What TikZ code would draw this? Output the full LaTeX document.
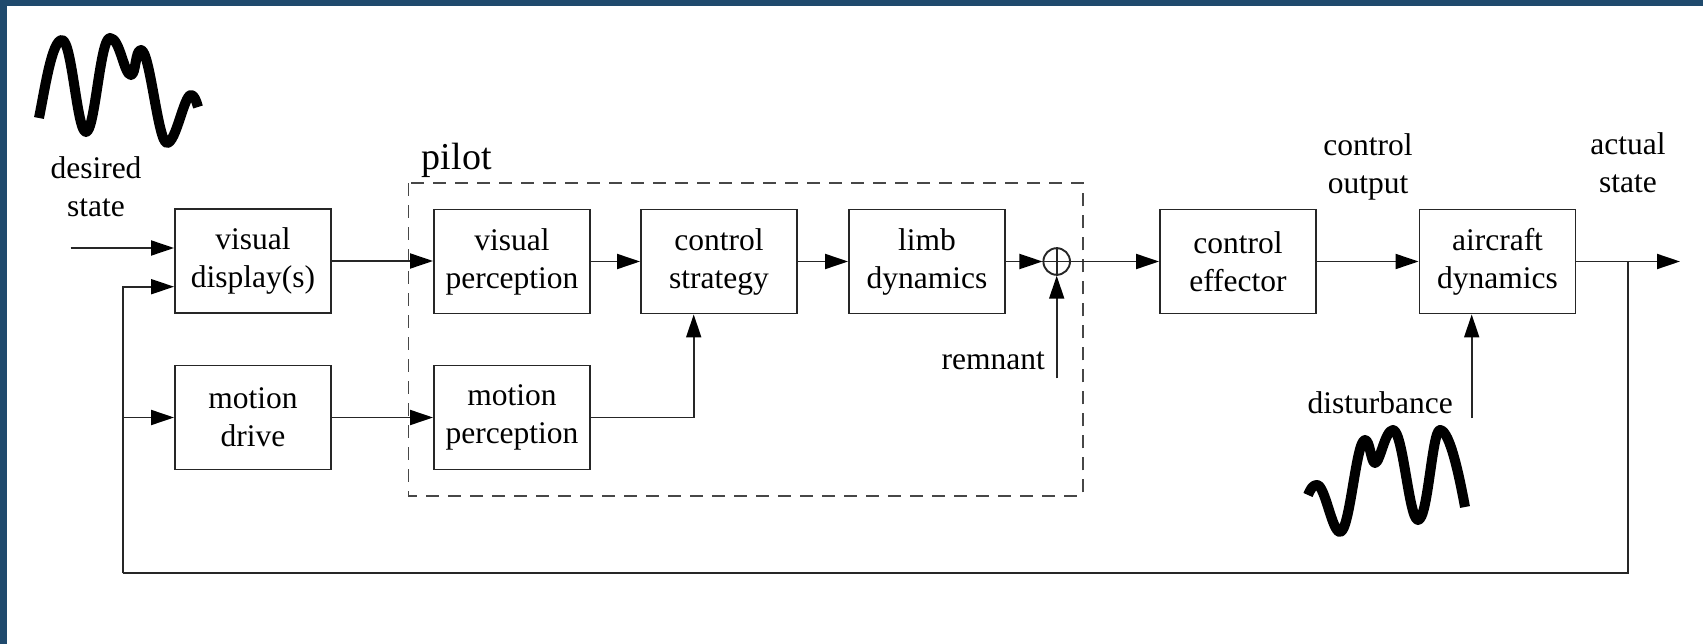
\documentclass[tikz,border=0pt]{standalone}
\usepackage{fontspec}
\setmainfont{Liberation Serif}
\usetikzlibrary{arrows.meta,calc}
\definecolor{frameblue}{HTML}{1F4A6D}
\definecolor{ink}{HTML}{262626}
\tikzset{
  txt/.style={font=\fontsize{31.5}{38}\selectfont},
  block/.style={draw=ink, line width=1.9pt, minimum width=156pt, minimum height=104pt, inner sep=0pt, align=center, txt},
  lbl/.style={align=center, inner sep=0pt, txt},
  conn/.style={draw=ink, line width=1.9pt, -{Triangle[length=23pt,width=15pt,fill=black,color=black]}},
  wire/.style={draw=ink, line width=1.9pt},
  sumnode/.style={circle, draw=ink, line width=1.9pt, minimum size=26.6pt, inner sep=0pt},
  pilotbox/.style={draw=ink!85, line width=1.9pt, dash pattern=on 13pt off 9pt},
  wave/.style={draw=black, line width=10pt, line join=round}
}
\begin{document}
\begin{tikzpicture}[x=1pt,y=-1pt]
\useasboundingbox (0,0) rectangle (1703,644);
\fill[white] (0,0) rectangle (1703,644);
\fill[frameblue] (0,0) rectangle (1703,6);
\fill[frameblue] (0,0) rectangle (7,644);

% pilot region
\draw[pilotbox] (408.5,183.3) rectangle (1082.7,495.7);
\node[lbl, anchor=base west, font=\fontsize{38}{44}\selectfont] (pilotL) at (421.7,170) {pilot};

% blocks
\node[block] (VD) at (253,261) {visual\\display(s)};
\node[block] (MD) at (253,417.5) {motion\\drive};
\node[block] (VP) at (512,261.5) {visual\\perception};
\node[block] (MP) at (512,417.5) {motion\\perception};
\node[block] (CS) at (719,261.5) {control\\strategy};
\node[block] (LD) at (927,261.5) {limb\\dynamics};
\node[block] (CE) at (1238,261.5) {control\\effector};
\node[block] (AD) at (1497.5,261.5) {aircraft\\dynamics};
\node[sumnode] (S) at (1056.7,261.5) {};

% labels
\node[lbl] (desL) at (96,186.6) {desired\\state};
\node[lbl] (coL) at (1368,166.7) {control\\output};
\node[lbl] (asL) at (1628,163.2) {actual\\state};
\node[lbl, anchor=base east] (remL) at (1045,370) {remnant};
\node[lbl, anchor=base east] (disL) at (1453,413) {disturbance};

% coordinates
\coordinate (din) at (70.7,248);
\coordinate (out) at (1680,261.5);
\coordinate (fbsplit) at (1628.3,261.5);
\coordinate (fbcorner) at (1628.3,573.3);
\coordinate (fbleft) at (122.7,573.3);
\coordinate (rem) at (1056.7,378.3);
\coordinate (dist) at (1471.7,418);

% connectors
\draw[conn] (din) -- ([yshift=13pt]VD.west);
\draw[conn] (VD.east) -- (VP.west |- VD.east);
\draw[conn] (MD.east) -- (MP.west);
\draw[conn] (VP.east) -- (CS.west);
\draw[conn] (CS.east) -- (LD.west);
\draw[conn] (MP.east) -| ([xshift=-25.3pt]CS.south);
\draw[conn] (LD.east) -- (S.west);
\draw[wire] (S.north) -- (S.south) (S.west) -- (S.east);
\draw[conn] (rem) -- (S.south);
\draw[conn] (S.east) -- (CE.west);
\draw[conn] (CE.east) -- (AD.west);
\draw[conn] (dist) -- (dist |- AD.south);
\draw[conn] (AD.east) -- (out);
\draw[wire] (fbsplit) -- (fbcorner) -- (fbleft);
\draw[conn] (fbleft) |- ([yshift=-25.7pt]VD.west);
\draw[conn] (fbleft |- MD.west) -- (MD.west);

% signal waves
\draw[wave] (39,118) .. controls (45,88) and (52,40) .. (62,40)
  .. controls (72,40) and (77,132) .. (86,132)
  .. controls (95,132) and (100,38) .. (110,38)
  .. controls (120,38) and (124,75) .. (131,75)
  .. controls (136,75) and (135,50) .. (141,50)
  .. controls (150,50) and (158,143) .. (167,143)
  .. controls (176,143) and (184,95) .. (191,95)
  .. controls (194,95) and (196,100) .. (198,107);
\draw[wave] (1308,495) .. controls (1311,488) and (1313,485) .. (1317,485)
  .. controls (1325,485) and (1332,532) .. (1340,532)
  .. controls (1350,532) and (1356,440) .. (1365,440)
  .. controls (1370,440) and (1371,463) .. (1375,463)
  .. controls (1380,463) and (1385,430) .. (1393,430)
  .. controls (1403,430) and (1409,520) .. (1418,520)
  .. controls (1428,520) and (1432,430) .. (1440,430)
  .. controls (1450,430) and (1460,480) .. (1465,507);
\end{tikzpicture}
\end{document}
